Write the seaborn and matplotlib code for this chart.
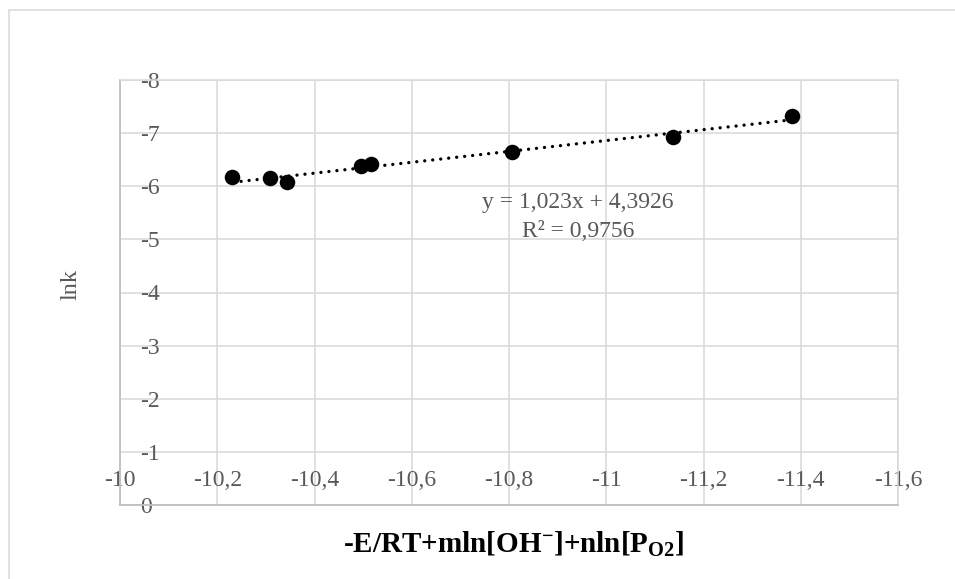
import numpy as np
import pandas as pd
import matplotlib
matplotlib.use("Agg")
import matplotlib.pyplot as plt
from matplotlib.patches import Rectangle
import seaborn as sns

# Measured points
x_vals = [-10.231, -10.308, -10.344, -10.495, -10.516, -10.807, -11.138, -11.382]
lnk_vals = [-6.168, -6.150, -6.086, -6.387, -6.413, -6.651, -6.933, -7.322]

# Linear trendline coefficients (as printed on the chart)
slope = 1.023
intercept = 4.3926
r_squared = 0.9756

x_ticks = [-10, -10.2, -10.4, -10.6, -10.8, -11, -11.2, -11.4, -11.6]
x_tick_labels = ["-10", "-10,2", "-10,4", "-10,6", "-10,8", "-11", "-11,2", "-11,4", "-11,6"]
y_ticks = [0, -1, -2, -3, -4, -5, -6, -7, -8]
y_tick_labels = ["0", "-1", "-2", "-3", "-4", "-5", "-6", "-7", "-8"]

sns.set_theme(style="white")
plt.rcParams["font.family"] = ["Liberation Serif", "DejaVu Serif"]
plt.rcParams["mathtext.default"] = "regular"

GRID = "#d9d9d9"
AXIS = "#bfbfbf"
TEXT = "#595959"

fig = plt.figure(figsize=(9.55, 5.79), dpi=100)
fig.patch.set_facecolor("white")

# Chart-area frame (runs off the right and bottom edges)
fig.patches.append(Rectangle((9 / 955, -0.05), 1.2, 1 - 10 / 579 + 0.05,
                             transform=fig.transFigure, fill=False,
                             edgecolor=GRID, linewidth=1.1, zorder=0))

ax = fig.add_axes([120 / 955, 1 - 505 / 579, 778 / 955, 425 / 579])

df = pd.DataFrame({"x": x_vals, "lnk": lnk_vals})

# Dotted linear trendline spanning the data range
xs = np.array([min(x_vals), max(x_vals)])
ax.plot(xs, slope * xs + intercept, color="black", linewidth=2.4,
        linestyle=(0, (0.01, 2.4)), dash_capstyle="round", zorder=3)

sns.scatterplot(data=df, x="x", y="lnk", ax=ax, color="black", s=125,
                edgecolor="black", linewidth=0, zorder=4)

ax.set_xlim(-10, -11.6)
ax.set_ylim(0, -8)
ax.set_xticks(x_ticks)
ax.set_xticklabels(x_tick_labels)
ax.set_yticks(y_ticks)
ax.set_yticklabels(y_tick_labels)

ax.grid(True, color=GRID, linewidth=1.1)
ax.set_axisbelow(True)
for side in ("top", "right"):
    ax.spines[side].set_color(GRID)
    ax.spines[side].set_linewidth(1.1)
for side in ("left", "bottom"):
    ax.spines[side].set_color(AXIS)
    ax.spines[side].set_linewidth(1.3)

ax.tick_params(axis="x", length=0, pad=-18, labelsize=17, labelcolor=TEXT)
ax.tick_params(axis="y", length=0, pad=-14.4, labelsize=17, labelcolor=TEXT)
for lbl in ax.get_xticklabels():
    lbl.set_verticalalignment("center")
for lbl in ax.get_yticklabels():
    lbl.set_horizontalalignment("left")

ax.set_ylabel("lnk", fontsize=17.5, color=TEXT)
ax.yaxis.set_label_coords(-0.049, 0.52)
ax.set_xlabel(r"-E/RT+mln[OH$^{-}$]+nln[P$_{O2}$]", fontsize=21,
              fontweight="bold", color="black")
ax.xaxis.set_label_coords(0.506, -0.058)

ax.text(-10.942, -5.685, f"y = {slope:.3f}x + {intercept:.4f}".replace(".", ","),
        ha="center", va="center", fontsize=17, color=TEXT, zorder=5)
ax.text(-10.942, -5.139, f"R² = {r_squared:.4f}".replace(".", ","),
        ha="center", va="center", fontsize=17, color=TEXT, zorder=5)

fig.savefig("out.png", dpi=100, facecolor="white")
